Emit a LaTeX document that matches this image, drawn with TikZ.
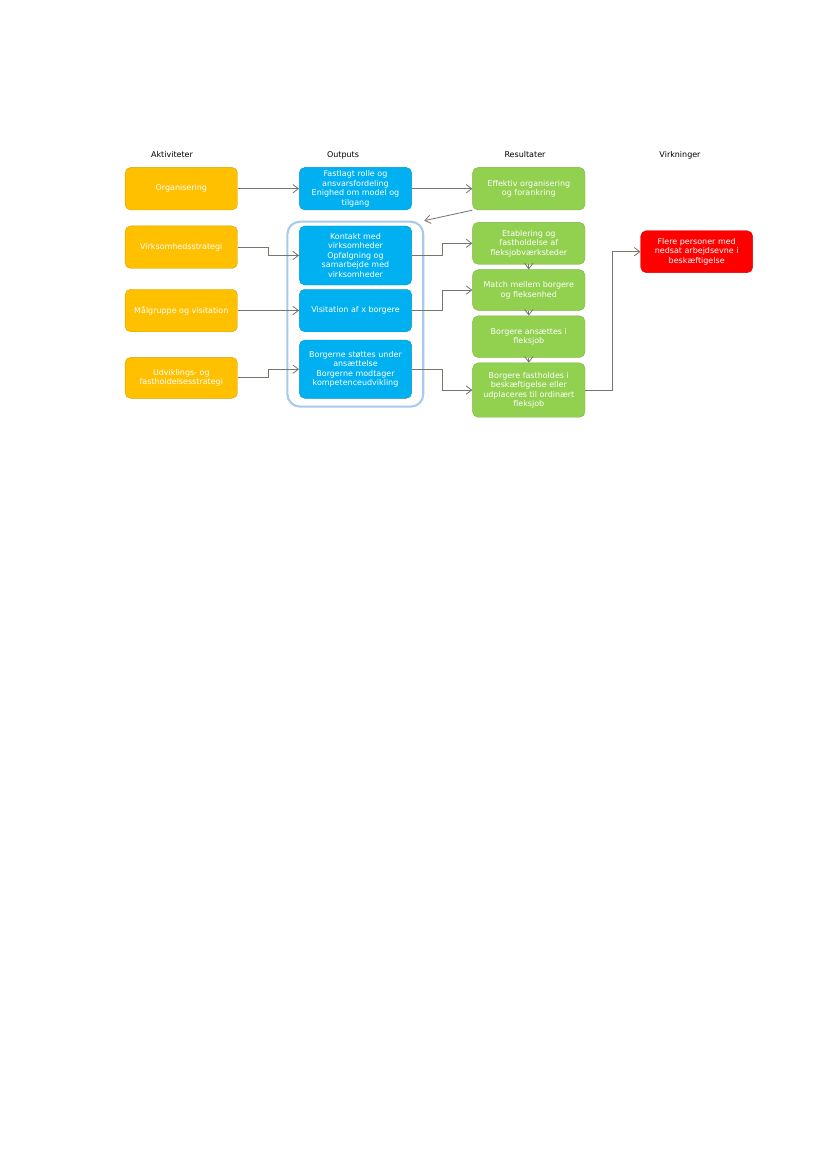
\documentclass[tikz,border=0pt]{standalone}
\usepackage{fontspec}
\setmainfont{DejaVu Sans}
\usepackage{xcolor}
\usetikzlibrary{arrows.meta,positioning}
\definecolor{actorange}{HTML}{FFC000}
\definecolor{outblue}{HTML}{00B0F0}
\definecolor{resgreen}{HTML}{92D050}
\definecolor{effred}{HTML}{FF0000}
\definecolor{linegray}{RGB}{120,118,108}
\definecolor{grpblue}{HTML}{A7CAEA}

\begin{document}
\begin{tikzpicture}[
    x=0.7198pt, y=-0.7198pt,
    node distance=3.6pt,
    base/.style={rectangle, rounded corners=4pt, text=white, align=center, minimum width=80.9pt, minimum height=30.6pt, inner sep=1pt, font=\fontsize{5.75pt}{6.84pt}\selectfont},
    actbox/.style={base, fill=actorange, draw=actorange!85!black, line width=0.3pt},
    outbox/.style={base, fill=outblue, draw=outblue!85!black, line width=0.3pt},
    resbox/.style={base, fill=resgreen, draw=resgreen!85!black, line width=0.3pt},
    effbox/.style={base, fill=effred, draw=effred!85!black, line width=0.3pt},
    head/.style={font=\fontsize{5.75pt}{6.84pt}\selectfont, text=black},
    group/.style={rectangle, rounded corners=9pt, draw=grpblue, line width=1.5pt, minimum width=97.8pt, minimum height=133.1pt},
    arrow/.style={-{Straight Barb[length=4pt,width=6pt]}, draw=linegray, line width=0.6pt}
]
    \useasboundingbox (0,0) rectangle (827,1169);

    \node[head] (hakt) at (172,155) {Aktiviteter};
    \node[head] (hout) at (343,155) {Outputs};
    \node[head] (hres) at (525,155) {Resultater};
    \node[head] (hvirk) at (680,155) {Virkninger};

    \node[actbox] (org) at (181.3,188.7) {Organisering};
    \node[actbox] (virk) at (181.3,247.2) {Virksomhedsstrategi};
    \node[actbox] (maal) at (181.3,310.5) {Målgruppe og visitation};
    \node[actbox, minimum height=29.5pt] (udv) at (181.3,377.8) {Udviklings- og\\fastholdelsesstrategi};

    \node[group] (grp) at (355.35,314.15) {};

    \node[outbox] (fast) at (355.5,188.7) {Fastlagt rolle og\\ansvarsfordeling\\Enighed om model og\\tilgang};
    \node[outbox, minimum height=42.5pt] (kont) at (355.5,255.5) {Kontakt med\\virksomheder\\Opfølgning og\\samarbejde med\\virksomheder};
    \node[outbox] (visi) at (355.5,310.5) {Visitation af x borgere};
    \node[outbox, minimum height=42pt] (stoet) at (355.5,369.2) {Borgerne støttes under\\ansættelse\\Borgerne modtager\\kompetenceudvikling};

    \node[resbox] (effekt) at (528.8,188.7) {Effektiv organisering\\og forankring};
    \node[resbox, minimum height=30.2pt] (etab) at (528.8,243.3) {Etablering og\\fastholdelse af\\fleksjobværksteder};
    \node[resbox, minimum height=29.3pt, below=of etab] (match) {Match mellem borgere\\og fleksenhed};
    \node[resbox, minimum height=30pt, below=of match] (ans) {Borgere ansættes i\\fleksjob};
    \node[resbox, minimum height=39.1pt, below=of ans] (fasth) {Borgere fastholdes i\\beskæftigelse eller\\udplaceres til ordinært\\fleksjob};

    \node[effbox, minimum height=30.2pt, minimum width=80.6pt] (flere) at (696.7,251.7) {Flere personer med\\nedsat arbejdsevne i\\beskæftigelse};

    \draw[arrow] (org) -- (fast);
    \draw[arrow] (virk.east) -- ++(30.6,0) |- (kont.west);
    \draw[arrow] (maal) -- (visi);
    \draw[arrow] (udv.east) -- ++(30.6,0) |- (stoet.west);
    \draw[arrow] (fast) -- (effekt);
    \draw[arrow] (effekt.south west) -- (grp.north east);
    \draw[arrow] (kont.east) -- ++(31,0) |- (etab.west);
    \draw[arrow] (visi.east) -- ++(31,0) |- (match.west);
    \draw[arrow] (stoet.east) -- ++(31,0) |- (fasth.west);
    \draw[arrow] (etab) -- (match);
    \draw[arrow] (match) -- (ans);
    \draw[arrow] (ans) -- (fasth);
    \draw[arrow] (fasth.east) -- ++(27.7,0) |- (flere.west);
\end{tikzpicture}
\end{document}
